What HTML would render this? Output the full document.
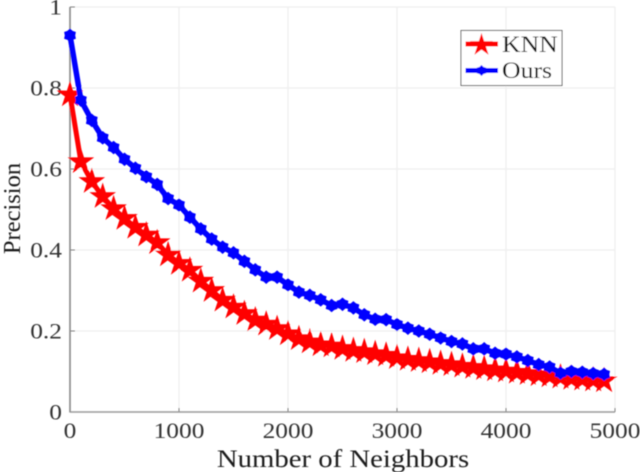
<!DOCTYPE html>
<html>
<head>
<meta charset="utf-8">
<title>Precision vs Number of Neighbors</title>
<style>
html,body{margin:0;padding:0;background:#fff;width:640px;height:472px;overflow:hidden}
svg{display:block}
text{font-family:"Liberation Serif",serif}
</style>
</head>
<body>
<svg id="chart" width="640" height="472" viewBox="0 0 640 472">
  <defs>
    <filter id="soft" x="-5%" y="-5%" width="110%" height="110%"><feGaussianBlur stdDeviation="0.45"/></filter>
  </defs>
  <g filter="url(#soft)">
  <g id="grid"></g>
  <g id="axes"></g>
  <g id="series-knn"></g>
  <g id="series-ours"></g>
  <g transform="translate(343,467) scale(1.15,1)">
    <text x="0" y="0" text-anchor="middle" font-size="25" fill="#1a1a1a">Number of Neighbors</text>
  </g>
  <g transform="translate(20,208.5) rotate(-90)">
    <text x="0" y="0" text-anchor="middle" font-size="24.5" fill="#1a1a1a">Precision</text>
  </g>
  <g>
    <rect x="461" y="30.5" width="101" height="55" fill="#fff" stroke="#666" stroke-width="1"/>
    <g>
      <line x1="465.5" x2="498" y1="44" y2="44" stroke="#f00" stroke-width="5"/>
      <polygon id="legend-star" fill="#f00"/>
      <g transform="translate(502,52) scale(1.12,1)"><text font-size="23" fill="#111">KNN</text></g>
    </g>
    <g>
      <line x1="465.5" x2="498" y1="70.5" y2="70.5" stroke="#00f" stroke-width="5"/>
      <polygon id="legend-hex" fill="#00f"/>
      <g transform="translate(502,78) scale(1.12,1)"><text font-size="23" fill="#111">Ours</text></g>
    </g>
  </g>
  </g>
</svg>
<script>
var neighbors = [0,100,200,300,400,500,600,700,800,900,1000,1100,1200,1300,1400,1500,1600,1700,1800,1900,2000,2100,2200,2300,2400,2500,2600,2700,2800,2900,3000,3100,3200,3300,3400,3500,3600,3700,3800,3900,4000,4100,4200,4300,4400,4500,4600,4700,4800,4900];
var knnValues = [0.783,0.618,0.569,0.532,0.502,0.478,0.456,0.437,0.418,0.388,0.367,0.35,0.323,0.3,0.276,0.259,0.243,0.227,0.217,0.206,0.193,0.181,0.173,0.166,0.163,0.157,0.152,0.149,0.144,0.14,0.134,0.13,0.127,0.124,0.12,0.117,0.113,0.11,0.107,0.104,0.101,0.098,0.095,0.092,0.089,0.086,0.083,0.081,0.079,0.077];
var oursValues = [0.93,0.77,0.72,0.677,0.653,0.624,0.602,0.581,0.562,0.527,0.511,0.481,0.452,0.427,0.407,0.393,0.372,0.351,0.333,0.333,0.314,0.296,0.288,0.277,0.263,0.266,0.257,0.24,0.229,0.228,0.216,0.207,0.2,0.192,0.183,0.174,0.168,0.156,0.156,0.145,0.143,0.136,0.127,0.117,0.111,0.096,0.1,0.098,0.095,0.093];
var xTicks = [0,1000,2000,3000,4000,5000];
var yTicks = [0,0.2,0.4,0.6,0.8,1];
var xTickLabels = ["0","1000","2000","3000","4000","5000"];
var yTickLabels = ["0","0.2","0.4","0.6","0.8","1"];

var NS = "http://www.w3.org/2000/svg";
function xScale(v){ return 70 + v * 545 / 5000; }
function yScale(v){ return 412 - v * 405; }
function make(tag, attrs, parent){
  var el = document.createElementNS(NS, tag);
  for (var k in attrs) el.setAttribute(k, attrs[k]);
  parent.appendChild(el);
  return el;
}
function starPoints(cx, cy, tips, outer, inner){
  var pts = [];
  for (var i = 0; i < tips * 2; i++){
    var r = i % 2 ? inner : outer;
    var a = -Math.PI / 2 + i * Math.PI / tips;
    pts.push((cx + r * Math.cos(a)).toFixed(2) + "," + (cy + r * Math.sin(a)).toFixed(2));
  }
  return pts.join(" ");
}
function linePoints(xs, ys){
  return xs.map(function(x, i){ return xScale(x).toFixed(2) + "," + yScale(ys[i]).toFixed(2); }).join(" ");
}

var grid = document.getElementById("grid");
var axes = document.getElementById("axes");

xTicks.forEach(function(t, i){
  var x = xScale(t);
  if (t > 0){
    var g = make("line", {x1:x, x2:x, y1:yScale(1), y2:yScale(0), stroke:"#eeeeee", "stroke-width":1.3}, grid);
    
    
    var tk = make("line", {x1:x, x2:x, y1:yScale(0), y2:yScale(0)-4, stroke:"#777", "stroke-width":1}, axes);
    
    
  }
  var w = make("g", {transform:"translate(" + x + ",438) scale(1.13,1)"}, axes);
  
  
  var lab = make("text", {"text-anchor":"middle", "font-size":22.5, fill:"#333"}, w);
  lab.textContent = xTickLabels[i];
});
yTicks.forEach(function(t, i){
  var y = yScale(t);
  if (t > 0){
    var g = make("line", {x1:xScale(0), x2:xScale(5000), y1:y, y2:y, stroke:"#eeeeee", "stroke-width":1.3}, grid);
    
    
    var tk = make("line", {x1:xScale(0), x2:xScale(0)+5, y1:y, y2:y, stroke:"#777", "stroke-width":1}, axes);
    
    
  }
  var w = make("g", {transform:"translate(62," + (y + 7.5) + ") scale(1.13,1)"}, axes);
  
  
  var lab = make("text", {"text-anchor":"end", "font-size":22.5, fill:"#333"}, w);
  lab.textContent = yTickLabels[i];
});
var yAxis = make("line", {x1:xScale(0), x2:xScale(0), y1:yScale(1), y2:yScale(0)+0.5, stroke:"#888", "stroke-width":1.6}, axes);


var xAxis = make("line", {x1:xScale(0), x2:xScale(5000), y1:yScale(0), y2:yScale(0), stroke:"#999", "stroke-width":1.6}, axes);



var knnGroup = document.getElementById("series-knn");
var knnLine = make("polyline", {points:linePoints(neighbors, knnValues), fill:"none", stroke:"#f00", "stroke-width":5, "stroke-linejoin":"round"}, knnGroup);


neighbors.forEach(function(n, i){
  var s = make("polygon", {points:starPoints(xScale(n), yScale(knnValues[i]), 5, 14, 5.3), fill:"#f00"}, knnGroup);
  
  
});

var oursGroup = document.getElementById("series-ours");
var oursLine = make("polyline", {points:linePoints(neighbors, oursValues), fill:"none", stroke:"#00f", "stroke-width":5.5, "stroke-linejoin":"round"}, oursGroup);


neighbors.forEach(function(n, i){
  var s = make("polygon", {points:starPoints(xScale(n), yScale(oursValues[i]), 6, 6.8, 5.2), fill:"#00f"}, oursGroup);
  
  
});

document.getElementById("legend-star").setAttribute("points", starPoints(481.5, 45, 5, 12, 4.6));
document.getElementById("legend-hex").setAttribute("points", starPoints(481.5, 70.5, 6, 5.5, 4));
</script>
</body>
</html>
